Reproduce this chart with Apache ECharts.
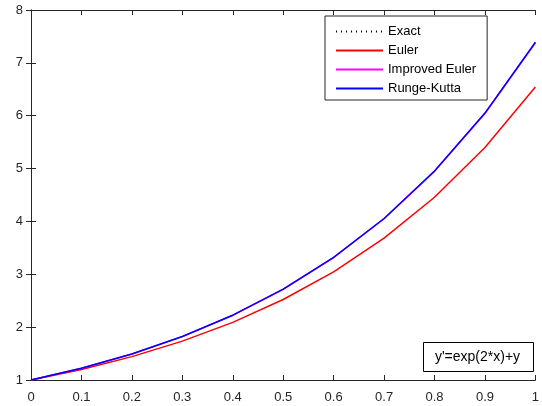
<!DOCTYPE html>
<html lang="en">
<head>
    <meta charset="UTF-8">
    <title>ODE methods</title>
    <style>
        html, body { margin: 0; padding: 0; background: #fff; }
        #main { width: 542px; height: 406px; }
    </style>
    <script src="https://cdn.jsdelivr.net/npm/echarts@6/dist/echarts.min.js"></script>
</head>
<body>
    <div id="main"></div>
    <script>
        // values, step h = 0.1
        let xs = [0, 0.1, 0.2, 0.3, 0.4, 0.5, 0.6, 0.7, 0.8, 0.9, 1];
        let exact = [1, 1.221, 1.492, 1.822, 2.226, 2.718, 3.320, 4.055, 4.953, 6.050, 7.389];
        let euler = [1, 1.200, 1.442, 1.736, 2.091, 2.523, 3.047, 3.684, 4.458, 5.399, 6.544];
        let improved = [1, 1.221, 1.491, 1.821, 2.224, 2.716, 3.317, 4.051, 4.947, 6.041, 7.377];
        let rk = [1, 1.221, 1.492, 1.822, 2.226, 2.718, 3.320, 4.055, 4.953, 6.050, 7.389];
        let names = ['Exact', 'Euler', 'Improved Euler', 'Runge-Kutta'];
        let note = "y'=exp(2*x)+y";

        let font = "'Liberation Sans', Arial, sans-serif";
        let axisColor = '#262626';

        function pairs(ys) {
            return xs.map(function (x, i) { return [x, ys[i]]; });
        }

        function makeSeries(name, ys, color, type, width) {
            return {
                name: name,
                type: 'line',
                data: pairs(ys),
                showSymbol: false,
                symbol: 'none',
                animation: false,
                color: color,
                lineStyle: { color: color, width: width || 1.5, type: type || 'solid' }
            };
        }

        let chartDom = document.getElementById('main');
        let myChart = echarts.init(chartDom);

        let baseAxis = {
            axisLine: { show: true, lineStyle: { color: axisColor, width: 1 } },
            axisTick: { show: true, inside: true, length: 5, lineStyle: { color: axisColor } },
            splitLine: { show: false }
        };

        let option = {
            backgroundColor: '#fff',
            animation: false,
            grid: { left: 31, right: 2, top: 10, bottom: 26 },
            xAxis: [
                Object.assign({}, baseAxis, {
                    type: 'value', min: 0, max: 1, interval: 0.1,
                    axisLabel: { color: axisColor, fontFamily: font, fontSize: 13, margin: 11 }
                }),
                Object.assign({}, baseAxis, {
                    type: 'value', position: 'top', min: 0, max: 1, interval: 0.1,
                    axisLabel: { show: false }
                })
            ],
            yAxis: [
                Object.assign({}, baseAxis, {
                    type: 'value', min: 1, max: 8, interval: 1,
                    axisLabel: { color: axisColor, fontFamily: font, fontSize: 13, margin: 8 }
                }),
                Object.assign({}, baseAxis, {
                    type: 'value', position: 'right', min: 1, max: 8, interval: 1,
                    axisLabel: { show: false }
                })
            ],
            legend: {
                data: names,
                orient: 'vertical',
                left: 325,
                top: 16,
                padding: [9, 11, 5, 10],
                itemWidth: 47,
                itemHeight: 12,
                itemGap: 6,
                itemStyle: { opacity: 0 },
                backgroundColor: '#fff',
                borderColor: axisColor,
                borderWidth: 1,
                borderRadius: 0,
                textStyle: { color: '#000', fontFamily: font, fontSize: 13 }
            },
            graphic: [{
                type: 'group',
                left: 423,
                top: 342,
                children: [
                    {
                        type: 'rect',
                        shape: { x: 0, y: 0, width: 110, height: 29 },
                        style: { fill: '#fff', stroke: '#000', lineWidth: 1 }
                    },
                    {
                        type: 'text',
                        x: 54,
                        y: 15,
                        style: {
                            text: note, fill: '#000', font: '14px ' + font,
                            align: 'center', verticalAlign: 'middle'
                        }
                    }
                ]
            }],
            series: [
                makeSeries(names[0], exact, '#000000', [1, 4], 1),
                makeSeries(names[1], euler, '#ff0000'),
                makeSeries(names[2], improved, '#ff00ff'),
                makeSeries(names[3], rk, '#0000ff')
            ]
        };

        option && myChart.setOption(option);
    </script>
</body>
</html>
